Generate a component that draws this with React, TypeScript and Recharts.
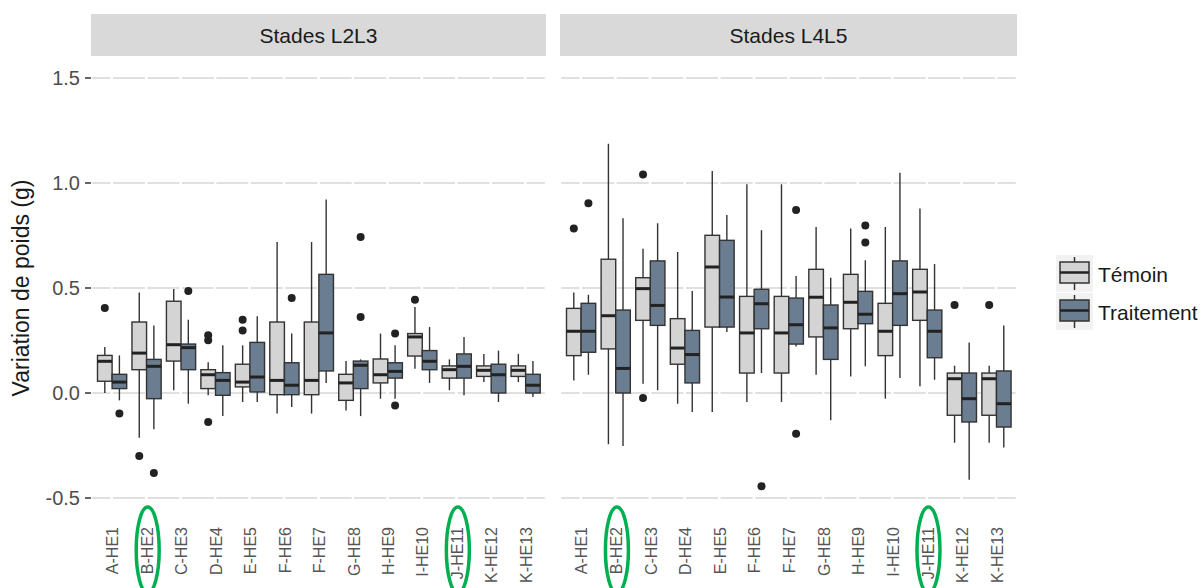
import { Bar, CartesianGrid, ComposedChart, XAxis, YAxis } from "recharts";

const categories = [
  "A-HE1", "B-HE2", "C-HE3", "D-HE4", "E-HE5", "F-HE6", "F-HE7",
  "G-HE8", "H-HE9", "I-HE10", "J-HE11", "K-HE12", "K-HE13",
];
const highlighted = ["B-HE2", "J-HE11"];
const yTicks = [-0.5, 0, 0.5, 1, 1.5];
const yDomain = [-0.6, 1.6];
const panels = ["Stades L2L3", "Stades L4L5"];
const groups = ["Témoin", "Traitement"];

// [min, q1, median, q3, max] per category
const l2l3Temoin = [
  [0.0, 0.056, 0.151, 0.179, 0.219],
  [-0.213, 0.111, 0.19, 0.338, 0.478],
  [0.013, 0.152, 0.23, 0.437, 0.495],
  [-0.011, 0.021, 0.087, 0.111, 0.146],
  [-0.043, 0.029, 0.052, 0.137, 0.227],
  [-0.098, -0.008, 0.06, 0.338, 0.719],
  [-0.098, -0.008, 0.06, 0.338, 0.719],
  [-0.083, -0.035, 0.048, 0.089, 0.152],
  [-0.027, 0.048, 0.087, 0.162, 0.283],
  [0.116, 0.176, 0.267, 0.283, 0.41],
  [0.013, 0.071, 0.111, 0.129, 0.16],
  [0.052, 0.079, 0.108, 0.129, 0.186],
  [0.052, 0.079, 0.108, 0.129, 0.186],
];
const l2l3TemoinOut = [[0.405], [-0.3], [], [0.275, 0.251, -0.138], [0.349, 0.298], [], [], [], [], [0.444], [], [], []];

const l2l3Traitement = [
  [-0.035, 0.021, 0.052, 0.089, 0.179],
  [-0.173, -0.027, 0.127, 0.16, 0.322],
  [-0.051, 0.111, 0.216, 0.233, 0.349],
  [-0.11, -0.011, 0.06, 0.097, 0.227],
  [-0.043, 0.005, 0.076, 0.241, 0.365],
  [-0.067, -0.008, 0.037, 0.144, 0.283],
  [0.048, 0.105, 0.286, 0.565, 0.922],
  [-0.11, 0.021, 0.132, 0.152, 0.16],
  [-0.027, 0.071, 0.103, 0.144, 0.227],
  [0.048, 0.111, 0.151, 0.202, 0.314],
  [-0.011, 0.071, 0.127, 0.186, 0.267],
  [-0.043, 0.0, 0.087, 0.137, 0.202],
  [-0.019, 0.0, 0.037, 0.089, 0.152],
];
const l2l3TraitementOut = [[-0.098], [-0.381], [0.486], [], [], [0.452], [], [0.743, 0.362], [0.283, -0.059], [], [], [], []];

const l4l5Temoin = [
  [0.06, 0.178, 0.294, 0.403, 0.478],
  [-0.244, 0.21, 0.368, 0.637, 1.187],
  [0.044, 0.346, 0.497, 0.549, 0.687],
  [-0.051, 0.137, 0.214, 0.354, 0.671],
  [-0.09, 0.314, 0.6, 0.751, 1.057],
  [-0.043, 0.095, 0.286, 0.46, 0.994],
  [-0.043, 0.095, 0.286, 0.46, 0.994],
  [0.087, 0.267, 0.456, 0.589, 0.79],
  [0.079, 0.306, 0.432, 0.565, 0.783],
  [-0.027, 0.178, 0.294, 0.427, 0.79],
  [0.032, 0.346, 0.481, 0.589, 0.879],
  [-0.237, -0.106, 0.068, 0.095, 0.13],
  [-0.237, -0.106, 0.068, 0.095, 0.13],
];
const l4l5TemoinOut = [[0.783], [], [1.041, -0.024], [], [], [], [], [], [], [], [], [0.419], [0.419]];

const l4l5Traitement = [
  [0.087, 0.194, 0.294, 0.427, 0.468],
  [-0.252, 0.0, 0.117, 0.395, 0.832],
  [0.013, 0.322, 0.417, 0.629, 0.808],
  [-0.09, 0.048, 0.183, 0.298, 0.486],
  [0.29, 0.314, 0.457, 0.727, 0.848],
  [0.095, 0.306, 0.425, 0.494, 0.775],
  [0.222, 0.233, 0.325, 0.452, 0.557],
  [-0.13, 0.16, 0.31, 0.419, 0.549],
  [0.127, 0.33, 0.375, 0.484, 0.632],
  [0.071, 0.322, 0.473, 0.629, 1.049],
  [0.063, 0.168, 0.294, 0.395, 0.614],
  [-0.413, -0.138, -0.027, 0.095, 0.241],
  [-0.26, -0.162, -0.051, 0.105, 0.322],
];
const l4l5TraitementOut = [[0.903], [], [], [], [], [-0.444], [0.871, -0.194], [], [0.798, 0.717], [], [], [], []];

const FONT = "'Liberation Sans', Arial, sans-serif";
const fills = ["#d4d4d4", "#6b7d91"];
const OUTLINE = "#333333";

const buildRows = (t: number[][], tOut: number[][], r: number[][], rOut: number[][]) =>
  categories.map((cat, i) => ({ cat, t: t[i], tOut: tOut[i], r: r[i], rOut: rOut[i] }));

const l2l3Rows = buildRows(l2l3Temoin, l2l3TemoinOut, l2l3Traitement, l2l3TraitementOut);
const l4l5Rows = buildRows(l4l5Temoin, l4l5TemoinOut, l4l5Traitement, l4l5TraitementOut);

// the bar spans min..max; every other stat is placed on the same scale
// eslint-disable-next-line @typescript-eslint/no-explicit-any
const makeBoxShape = (statsKey: string, outKey: string, fill: string) => (props: any) => {
  const { x, y, width, height, payload } = props;
  const [lo, q1, med, q3, hi] = payload[statsKey];
  const top = Math.min(y, y + height);
  const bottom = Math.max(y, y + height);
  const px = (v: number) => bottom - ((v - lo) / (hi - lo)) * (bottom - top);
  const cx = x + width / 2;
  return (
    <g>
      <line x1={cx} x2={cx} y1={px(hi)} y2={px(q3)} stroke={OUTLINE} strokeWidth={1.4} />
      <line x1={cx} x2={cx} y1={px(q1)} y2={px(lo)} stroke={OUTLINE} strokeWidth={1.4} />
      <rect
        x={x}
        y={px(q3)}
        width={width}
        height={Math.max(px(q1) - px(q3), 0.5)}
        fill={fill}
        stroke={OUTLINE}
        strokeWidth={1.4}
      />
      <line x1={x} x2={x + width} y1={px(med)} y2={px(med)} stroke="#222" strokeWidth={3} />
      {payload[outKey].map((v: number, i: number) => (
        <circle key={i} cx={cx} cy={px(v)} r={4} fill="#222" />
      ))}
    </g>
  );
};

const temoinShape = makeBoxShape("t", "tOut", fills[0]);
const traitementShape = makeBoxShape("r", "rOut", fills[1]);

// horizontal grid only at the labelled ticks (not at the panel edge)
// eslint-disable-next-line @typescript-eslint/no-explicit-any
const gridRows = (args: any) => {
  const s = args?.yAxis?.scale;
  if (typeof s === "function") return yTicks.map((t) => s(t));
  if (s && typeof s.map === "function") return yTicks.map((t) => s.map(t));
  const off = args?.offset;
  if (!off) return [];
  return yTicks.map((t) => off.top + (off.height * (yDomain[1] - t)) / (yDomain[1] - yDomain[0]));
};

// eslint-disable-next-line @typescript-eslint/no-explicit-any
const CategoryTick = (props: any) => {
  const { x, y, payload } = props;
  const marked = highlighted.includes(payload.value);
  return (
    <g transform={`translate(${x},${y})`}>
      <text
        x={-8}
        y={1}
        dy="0.35em"
        transform="rotate(-90)"
        textAnchor="end"
        fontSize={16}
        fontFamily={FONT}
        fill="#555"
      >
        {payload.value}
      </text>
      {marked && (
        <ellipse cx={1.5} cy={31} rx={11.5} ry={43} fill="none" stroke="#00b050" strokeWidth={3.5} />
      )}
    </g>
  );
};

// eslint-disable-next-line @typescript-eslint/no-explicit-any
const YTitle = (props: any) => {
  const vb = props.viewBox || {};
  const cy = vb.height ? vb.y + vb.height / 2 : 288;
  return (
    <text
      x={21}
      y={cy}
      transform={`rotate(-90, 21, ${cy})`}
      textAnchor="middle"
      dominantBaseline="central"
      fontSize={23}
      fontFamily={FONT}
      fill="#1a1a1a"
    >
      Variation de poids (g)
    </text>
  );
};

// eslint-disable-next-line @typescript-eslint/no-explicit-any
const Panel = ({ rows, width, showY }: { rows: any[]; width: number; showY: boolean }) => (
  <ComposedChart
    width={width}
    height={588}
    data={rows}
    margin={{ top: 57, right: 0, left: 0, bottom: 0 }}
    barGap={0}
    barSize={14.6}
  >
    <CartesianGrid
      horizontal
      vertical={false}
      stroke="#d6d6d6"
      strokeWidth={1.5}
      horizontalCoordinatesGenerator={gridRows}
    />
    <CartesianGrid horizontal={false} vertical stroke="#ffffff" strokeWidth={2.5} />
    <XAxis
      dataKey="cat"
      type="category"
      interval={0}
      height={69}
      padding={{ left: 3.5, right: 3.5 }}
      axisLine={false}
      tickLine={false}
      tickSize={0}
      tickMargin={0}
      tick={<CategoryTick />}
    />
    <YAxis
      type="number"
      domain={yDomain}
      ticks={yTicks}
      allowDataOverflow
      hide={!showY}
      width={91}
      axisLine={false}
      tickSize={6}
      tickMargin={5}
      tickLine={{ stroke: OUTLINE, strokeWidth: 1.5 }}
      tick={{ fontSize: 20, fontFamily: FONT, fill: "#4d4d4d" }}
      tickFormatter={(v: number) => v.toFixed(1)}
      label={showY ? YTitle : undefined}
    />
    <Bar
      dataKey={(d) => [d.t[0], d.t[4]]}
      name={groups[0]}
      shape={temoinShape}
      isAnimationActive={false}
    />
    <Bar
      dataKey={(d) => [d.r[0], d.r[4]]}
      name={groups[1]}
      shape={traitementShape}
      isAnimationActive={false}
    />
  </ComposedChart>
);

const stripStyle = (left: number, width: number) => ({
  position: "absolute" as const,
  left,
  top: 14,
  width,
  height: 42,
  background: "#d9d9d9",
  color: "#1a1a1a",
  fontFamily: FONT,
  fontSize: 21,
  lineHeight: "44px",
  textAlign: "center" as const,
});

const Legend = () => (
  <svg
    width={160}
    height={90}
    style={{ position: "absolute", left: 1050, top: 250 }}
  >
    {groups.map((g, i) => {
      const top = 5 + i * 38;
      return (
        <g key={g}>
          <rect x={6} y={top} width={37} height={37} fill="#f2f2f2" />
          <line x1={24.5} x2={24.5} y1={top + 2} y2={top + 35} stroke={OUTLINE} strokeWidth={1.5} />
          <rect x={10} y={top + 7} width={29} height={21} fill={fills[i]} stroke={OUTLINE} strokeWidth={1.5} />
          <line x1={10} x2={39} y1={top + 17.5} y2={top + 17.5} stroke="#222" strokeWidth={2.5} />
          <text
            x={48}
            y={top + 19}
            dominantBaseline="central"
            fontSize={21}
            fontFamily={FONT}
            fill="#1a1a1a"
          >
            {g}
          </text>
        </g>
      );
    })}
  </svg>
);

export default function App() {
  return (
    <div style={{ position: "absolute", left: 0, top: 0, width: 1201, height: 588, background: "#fff" }}>
      <div style={stripStyle(91, 455)}>{panels[0]}</div>
      <div style={stripStyle(560, 457)}>{panels[1]}</div>
      <div style={{ position: "absolute", left: 0, top: 0 }}>
        <Panel rows={l2l3Rows} width={546} showY />
      </div>
      <div style={{ position: "absolute", left: 560, top: 0 }}>
        <Panel rows={l4l5Rows} width={457} showY={false} />
      </div>
      <Legend />
    </div>
  );
}
